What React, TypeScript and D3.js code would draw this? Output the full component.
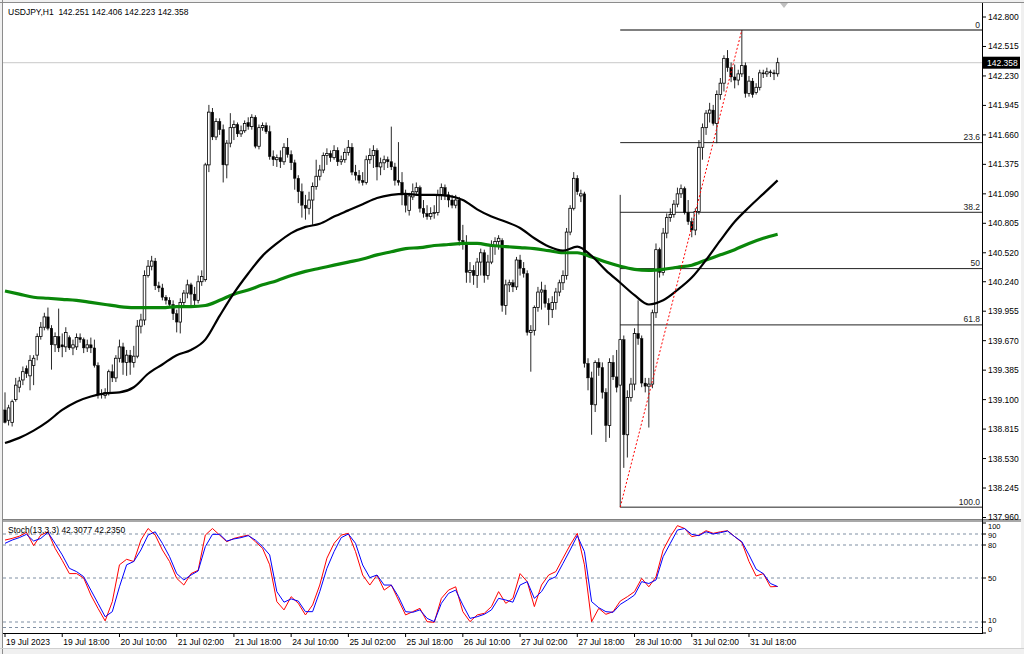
import React from 'react';
import * as d3 from 'd3';

// USDJPY H1 candles, 19 Jul 02:00 .. 1 Aug 02:00 — [open, high, low, close]
const ohlc: [number, number, number, number][] = [
  [139.00,139.17,138.87,138.88],[138.90,139.05,138.85,139.02],[138.88,139.10,138.84,139.08],[139.10,139.31,139.08,139.24],
  [139.22,139.32,139.17,139.28],[139.29,139.42,139.24,139.37],[139.40,139.43,139.31,139.35],[139.33,139.53,139.19,139.48],
  [139.43,139.53,139.24,139.50],[139.53,139.74,139.48,139.71],[139.71,139.85,139.68,139.80],[139.80,139.94,139.77,139.90],
  [139.90,139.99,139.77,139.79],[139.79,139.82,139.39,139.63],[139.63,139.75,139.56,139.71],[139.71,139.98,139.56,139.60],
  [139.63,139.74,139.51,139.61],[139.61,139.80,139.56,139.75],[139.70,139.72,139.58,139.60],[139.60,139.68,139.53,139.63],
  [139.61,139.74,139.58,139.70],[139.70,139.74,139.65,139.68],[139.68,139.70,139.55,139.60],[139.60,139.68,139.56,139.63],
  [139.63,139.70,139.55,139.60],[139.60,139.68,139.41,139.43],[139.43,139.46,139.11,139.15],[139.15,139.20,139.11,139.16],
  [139.14,139.21,139.11,139.17],[139.17,139.39,139.14,139.37],[139.37,139.44,139.27,139.31],[139.31,139.53,139.27,139.50],
  [139.50,139.68,139.46,139.61],[139.61,139.65,139.34,139.46],[139.46,139.58,139.33,139.53],[139.53,139.58,139.34,139.46],
  [139.46,139.62,139.41,139.52],[139.52,139.87,139.50,139.81],[139.81,139.93,139.74,139.87],[139.87,140.35,139.82,140.30],
  [140.30,140.45,140.28,140.39],[140.39,140.49,140.35,140.44],[140.44,140.47,140.16,140.20],[140.20,140.24,140.14,140.18],
  [140.18,140.22,140.06,140.09],[140.09,140.11,140.02,140.06],[140.06,140.09,139.99,140.02],[140.02,140.06,139.87,139.93],
  [139.93,139.97,139.75,139.85],[139.85,140.08,139.74,140.04],[140.04,140.16,140.01,140.13],[140.13,140.26,140.08,140.21],
  [140.21,140.23,140.01,140.12],[140.12,140.19,139.99,140.06],[140.06,140.30,140.03,140.24],[140.24,140.35,140.20,140.29],
  [140.26,141.39,140.24,141.37],[141.37,141.95,141.30,141.88],[141.88,141.92,141.61,141.64],[141.64,141.82,141.61,141.79],
  [141.79,141.82,141.66,141.71],[141.71,141.76,141.20,141.37],[141.37,141.61,141.24,141.58],[141.58,141.87,141.54,141.73],
  [141.73,141.80,141.61,141.76],[141.76,141.78,141.64,141.67],[141.67,141.75,141.64,141.70],[141.70,141.80,141.68,141.77],
  [141.78,141.83,141.71,141.74],[141.74,141.86,141.71,141.83],[141.83,141.85,141.53,141.55],[141.55,141.76,141.52,141.73],
  [141.73,141.78,141.70,141.75],[141.75,141.78,141.67,141.69],[141.69,141.75,141.42,141.45],[141.45,141.51,141.36,141.42],
  [141.42,141.47,141.35,141.44],[141.44,141.51,141.34,141.40],[141.40,141.58,141.37,141.54],[141.54,141.63,141.44,141.47],
  [141.47,141.51,141.32,141.39],[141.39,141.42,141.13,141.24],[141.24,141.27,141.00,141.11],[141.11,141.19,140.86,140.98],
  [140.98,141.08,140.84,140.95],[140.95,141.11,140.89,141.03],[141.03,141.20,140.79,141.16],[141.16,141.42,141.13,141.26],
  [141.26,141.37,141.22,141.32],[141.32,141.49,141.29,141.46],[141.46,141.53,141.37,141.48],[141.48,141.51,141.40,141.44],
  [141.44,141.56,141.42,141.51],[141.51,141.54,141.36,141.40],[141.40,141.46,141.37,141.42],[141.42,141.53,141.39,141.49],
  [141.49,141.61,141.46,141.54],[141.54,141.58,141.27,141.30],[141.30,141.37,141.22,141.27],[141.27,141.32,141.19,141.22],
  [141.22,141.30,141.17,141.20],[141.20,141.46,141.18,141.42],[141.42,141.53,141.38,141.46],[141.46,141.56,141.34,141.51],
  [141.51,141.53,141.22,141.35],[141.35,141.44,141.27,141.39],[141.39,141.46,141.32,141.42],[141.42,141.45,141.34,141.40],
  [141.40,141.74,141.32,141.35],[141.35,141.39,141.17,141.22],[141.22,141.59,141.17,141.20],[141.20,141.30,140.98,141.08],
  [141.08,141.13,140.91,140.98],[140.93,141.10,140.88,141.07],[141.06,141.19,141.03,141.11],[141.11,141.20,141.08,141.15],
  [141.15,141.17,140.91,140.95],[140.95,141.03,140.86,140.90],[140.90,140.98,140.84,140.87],[140.87,140.96,140.84,140.90],
  [140.90,140.98,140.85,140.91],[140.91,141.13,140.88,141.08],[141.08,141.19,141.03,141.15],[141.15,141.18,141.03,141.08],
  [141.08,141.11,140.96,141.03],[141.03,141.08,140.95,140.98],[140.98,141.08,140.95,141.03],[141.03,141.06,140.59,140.64],
  [140.64,140.79,140.55,140.61],[140.61,140.69,140.23,140.33],[140.33,140.43,140.23,140.35],[140.35,140.40,140.21,140.30],
  [140.30,140.47,140.18,140.43],[140.43,140.56,140.30,140.52],[140.52,140.55,140.23,140.30],[140.30,140.50,140.26,140.43],
  [140.43,140.64,140.41,140.59],[140.59,140.67,140.50,140.63],[140.63,140.69,140.55,140.66],[140.64,140.66,139.95,140.01],
  [140.01,140.26,139.92,140.21],[140.21,140.26,140.14,140.23],[140.23,140.26,140.14,140.19],[140.19,140.48,140.16,140.45],
  [140.45,140.50,140.30,140.37],[140.37,140.43,140.28,140.32],[140.32,140.35,139.72,139.75],[139.75,139.82,139.37,139.77],
  [139.77,140.01,139.72,139.99],[139.99,140.19,139.95,140.14],[140.14,140.24,139.97,140.16],[140.16,140.21,139.99,140.03],
  [140.03,140.08,139.82,139.97],[139.97,140.10,139.89,140.04],[140.04,140.18,139.97,140.14],[140.14,140.26,140.10,140.23],
  [140.23,140.35,140.16,140.30],[140.30,140.76,140.26,140.72],[140.72,140.98,140.69,140.95],[140.95,141.30,140.93,141.24],
  [141.24,141.27,141.08,141.11],[141.07,141.13,141.01,141.09],[141.09,141.11,139.41,139.45],[139.45,139.50,139.19,139.31],
  [139.31,139.37,138.76,139.05],[139.05,139.48,138.98,139.46],[139.46,139.50,139.33,139.41],[139.41,139.46,139.11,139.17],
  [139.17,139.21,138.69,138.85],[138.85,139.50,138.73,139.46],[139.46,139.53,139.29,139.32],[139.32,139.58,139.17,139.22],
  [139.24,141.08,138.06,139.68],[139.68,139.72,138.44,138.76],[138.76,139.19,138.54,139.12],[139.12,139.31,139.08,139.25],
  [139.25,139.79,139.19,139.74],[139.74,140.06,139.63,139.69],[139.69,139.72,139.22,139.26],[139.26,139.31,139.17,139.23],
  [139.23,139.31,138.83,139.25],[139.25,139.97,139.21,139.94],[139.94,140.61,139.89,140.55],[140.55,140.57,140.28,140.33],
  [140.33,140.76,140.30,140.71],[140.71,140.90,140.66,140.86],[140.86,140.95,140.82,140.89],[140.89,141.03,140.86,140.99],
  [140.99,141.15,140.96,141.09],[141.09,141.18,141.05,141.14],[141.14,141.16,140.89,140.91],[140.91,141.03,140.79,140.82],
  [140.82,140.86,140.67,140.74],[140.74,140.95,140.69,140.92],[140.92,141.61,140.89,141.54],[141.54,141.77,141.42,141.73],
  [141.73,141.90,141.66,141.87],[141.87,141.97,141.78,141.90],[141.90,141.95,141.75,141.77],[141.77,142.09,141.58,142.05],
  [142.05,142.21,142.00,142.16],[142.16,142.43,142.08,142.40],[142.40,142.48,142.27,142.31],[142.31,142.36,142.17,142.22],
  [142.22,142.34,142.11,142.19],[142.19,142.29,142.14,142.25],[142.25,142.674,142.22,142.33],[142.33,142.36,142.02,142.06],
  [142.06,142.23,142.03,142.18],[142.18,142.21,142.02,142.05],[142.07,142.16,142.05,142.12],[142.12,142.29,142.09,142.26],
  [142.26,142.29,142.21,142.25],[142.25,142.31,142.22,142.27],[142.27,142.29,142.22,142.26],[142.26,142.29,142.19,142.25],
  [142.251,142.406,142.223,142.358],
];

// moving averages, one value every 4 bars
const maStep = 4;
const maBlack = [
  138.68,138.73,138.80,138.89,139.00,139.08,139.13,139.16,139.17,139.22,
  139.35,139.44,139.53,139.58,139.68,139.91,140.13,140.32,140.49,140.61,
  140.71,140.77,140.80,140.87,140.93,140.99,141.05,141.08,141.09,141.08,
  141.08,141.07,141.03,140.94,140.87,140.82,140.76,140.66,140.58,140.54,
  140.58,140.49,140.35,140.23,140.11,140.02,140.06,140.16,140.28,140.45,
  140.64,140.82,140.96,141.09,141.22,
];
const maGreen = [
  140.15,140.12,140.09,140.08,140.07,140.06,140.04,140.02,140.00,139.99,
  139.99,139.99,140.00,140.00,140.01,140.06,140.12,140.16,140.21,140.25,
  140.30,140.34,140.37,140.40,140.43,140.46,140.50,140.53,140.56,140.57,
  140.59,140.60,140.61,140.61,140.59,140.58,140.57,140.56,140.54,140.52,
  140.52,140.48,140.43,140.39,140.36,140.35,140.36,140.38,140.40,140.45,
  140.50,140.55,140.61,140.66,140.70,
];

// stochastic (13,3,3), one value every 2 bars
const stochStep = 2;
const stochK = [
  84.5,86,88,91.5,79.4,89,92,77,66,54,
  54,50,34.5,22.4,11,28.5,62,67,65,84.5,
  95,89,75.5,65,49.7,43.6,54,57,89,95,
  89,83,86,87.6,89,83,77,62,28.5,21,
  33,27,16.4,25.5,43.6,68,81.5,89,90.6,74,
  52.7,43.6,52.7,39,43.6,30,16.4,19.4,22.4,10.3,
  9.7,31.5,39,42,19.4,10.3,16.4,17.9,24,37.6,
  27,31.5,54,46.7,24,43.6,52.7,55.8,68,80,
  90.6,62,10.3,22.4,17,19.4,29,33,37.6,49.7,
  42,51,75.5,87.6,97.6,95,87.6,89,93,90.6,
  92,93,87.6,82.4,65,51.8,54,42,42.3077,
];
const stochD = [
  81.5,84.5,86.7,89.7,83.6,86,91.5,81.5,71,58.8,
  55.8,51.2,39,27,14.8,19.4,42,62,65,75.5,
  89,92,81.5,69.4,54,48.2,52.7,56.4,78.5,89.7,
  89.7,83.6,85.5,86.7,88.5,84.5,78.5,71,37.6,28,
  31,29,19.4,19.4,37.6,58.8,74,86.7,90,81.5,
  61.8,50.3,52.7,43.6,43.6,33,19.4,18.8,21,13.3,
  10.3,27,36,39,25.5,13.3,14.8,17,21,31.5,
  30,28,43.6,46.7,31.5,37.6,48.2,51.2,63.3,75.5,
  88.5,74,28.5,23,19.4,18.8,26,30,34.5,46.7,
  45,48.2,69.4,81.5,93.6,95,89.7,88.5,92,90,
  91.2,92.7,87.6,83,71,58,54,45,42.235,
];

const priceTicks = [142.8, 142.515, 142.23, 141.945, 141.66, 141.375, 141.09, 140.805, 140.52, 140.24, 139.955, 139.67, 139.385, 139.1, 138.815, 138.53, 138.245, 137.96];
const stochLevels = [90, 80, 50, 10, 5];
const stochTicks = [100, 90, 80, 50, 10, 0];
const timeLabelStep = 16;
const timeLabels = ['19 Jul 2023', '19 Jul 18:00', '20 Jul 10:00', '21 Jul 02:00', '21 Jul 18:00', '24 Jul 10:00', '25 Jul 02:00', '25 Jul 18:00', '26 Jul 10:00', '27 Jul 02:00', '27 Jul 18:00', '28 Jul 10:00', '31 Jul 02:00', '31 Jul 18:00'];
const fibLevels = [0, 23.6, 38.2, 50, 61.8, 100];
const fibLabels = ['0', '23.6', '38.2', '50', '61.8', '100.0'];
const fibLowBar = 172;
const fibHighBar = 206;

const W = 1024, H = 654;
const left = 3, axisX = 982, mainTop = 3, mainBot = 519, stochTop = 522, stochBot = 633;
const font = "'Liberation Sans', Arial, sans-serif";

export default function App() {
  const n = ohlc.length;
  const x = d3.scaleLinear().domain([0, n - 1]).range([5, 777.6]);
  const y = d3.scaleLinear().domain([137.96, 142.8]).range([517.5, 17]);
  const ys = d3.scaleLinear().domain([0, 100]).range([stochBot, stochTop + 1]);

  const last = ohlc[n - 1];
  const header = `USDJPY,H1  ${last.map(v => v.toFixed(3)).join(' ')}`;
  const stochTitle = `Stoch(13,3,3) ${stochK[stochK.length - 1].toFixed(4)} ${stochD[stochD.length - 1].toFixed(4)}`;

  const maLine = d3.line<number>().x((_, i) => x(i * maStep)).y(d => y(d)).curve(d3.curveMonotoneX);
  const stLine = d3.line<number>().x((_, i) => x(i * stochStep)).y(d => ys(d));

  const fibLow = ohlc[fibLowBar][2];
  const fibHigh = ohlc[fibHighBar][1];
  const fx0 = x(fibLowBar);

  const bw = 2.6;
  // stoch axis labels sit close together at the panel edges, nudge them apart
  const stochLabelY = (v: number) => v === 100 ? 526.5 : v === 0 ? 629.5 : v === 10 ? 620 : v === 90 ? ys(v) + 1 : ys(v);

  return (
    <svg width={W} height={H} style={{ position: 'absolute', left: 0, top: 0 }} fontFamily={font}>
      <defs>
        <clipPath id="mainClip"><rect x={left} y={mainTop} width={axisX - left} height={mainBot - mainTop} /></clipPath>
        <clipPath id="stochClip"><rect x={left} y={stochTop} width={axisX - left} height={stochBot - stochTop} /></clipPath>
      </defs>
      <rect x={0} y={0} width={W} height={H} fill="#f0f0f0" />
      <rect x={left} y={mainTop} width={1021 - left} height={648 - mainTop} fill="#fff" />
      <line x1={left - 0.5} x2={left - 0.5} y1={0} y2={H} stroke="#8c8c8c" />
      <line x1={0} x2={W} y1={mainTop - 0.5} y2={mainTop - 0.5} stroke="#8c8c8c" />

      {/* main panel */}
      <g clipPath="url(#mainClip)">
        <line x1={left} x2={axisX} y1={y(last[3])} y2={y(last[3])} stroke="#c8c8c8" />
        {fibLevels.map((lv, k) => {
          const p = fibHigh - (fibHigh - fibLow) * lv / 100;
          return (
            <g key={lv}>
              <line x1={fx0} x2={axisX} y1={y(p)} y2={y(p)} stroke={lv === 0 ? '#808080' : '#222'} strokeWidth={lv === 0 ? 2 : 1} />
              <text x={axisX - 2} y={y(p) - 2.5} textAnchor="end" fontSize={8.5} fill="#222">{fibLabels[k]}</text>
            </g>
          );
        })}
        {ohlc.map(([o, h, l, c], i) => {
          const cx = x(i);
          const top = y(Math.max(o, c));
          const bh = Math.max(1, y(Math.min(o, c)) - top);
          const bull = c >= o;
          return (
            <g key={i}>
              <line x1={cx} x2={cx} y1={y(h)} y2={y(l)} stroke="#111" strokeWidth={0.9} />
              <rect x={cx - bw / 2} y={top} width={bw} height={bh} fill={bull ? '#fff' : '#000'} stroke="#000" strokeWidth={bull ? 0.8 : 0.4} />
            </g>
          );
        })}
        <path d={maLine(maGreen) ?? ''} fill="none" stroke="#0a870a" strokeWidth={3.2} strokeLinejoin="round" />
        <path d={maLine(maBlack) ?? ''} fill="none" stroke="#000" strokeWidth={2.2} strokeLinejoin="round" />
        <line x1={fx0} y1={y(fibLow)} x2={x(fibHighBar)} y2={y(fibHigh)} stroke="#ff0000" strokeDasharray="2 2" />
      </g>
      <text x={8} y={14.5} fontSize={8.5} fill="#000" style={{ whiteSpace: 'pre' }}>{header}</text>
      <path d="M780,3 L788,3 L784,8 Z" fill="#c0c0c0" />

      {/* separator */}
      <rect x={left} y={mainBot} width={1021 - left} height={stochTop - mainBot} fill="#a8a8a8" />
      <line x1={left} x2={1021} y1={mainBot + 0.5} y2={mainBot + 0.5} stroke="#808080" />

      {/* stochastic panel */}
      <g clipPath="url(#stochClip)">
        {stochLevels.map(lv => (
          <line key={lv} x1={left} x2={axisX} y1={ys(lv)} y2={ys(lv)} stroke="#7f8fa3" strokeDasharray="3 3" />
        ))}
        <path d={stLine(stochK) ?? ''} fill="none" stroke="#ff0000" strokeWidth={1} />
        <path d={stLine(stochD) ?? ''} fill="none" stroke="#0000ff" strokeWidth={1} />
      </g>
      <text x={8} y={533} fontSize={8.5} fill="#000">{stochTitle}</text>

      {/* price axis */}
      <line x1={axisX + 0.5} x2={axisX + 0.5} y1={mainTop} y2={stochBot} stroke="#000" />
      {priceTicks.map(p => (
        <g key={p}>
          <line x1={axisX} x2={axisX + 4} y1={y(p)} y2={y(p)} stroke="#000" />
          <text x={axisX + 6} y={y(p)} dy="0.35em" fontSize={8.5} fill="#000">{p.toFixed(3)}</text>
        </g>
      ))}
      <rect x={axisX + 1} y={y(last[3]) - 6} width={37} height={12} fill="#000" />
      <text x={axisX + 5} y={y(last[3])} dy="0.35em" fontSize={8.5} fill="#fff">{last[3].toFixed(3)}</text>
      {stochTicks.map(v => (
        <g key={v}>
          <line x1={axisX} x2={axisX + 4} y1={ys(v)} y2={ys(v)} stroke="#000" />
          <text x={axisX + 6} y={stochLabelY(v)} dy="0.35em" fontSize={7.5} fill="#000">{v}</text>
        </g>
      ))}

      {/* time axis */}
      <line x1={left} x2={axisX + 1} y1={stochBot + 0.5} y2={stochBot + 0.5} stroke="#000" />
      {timeLabels.map((t, k) => {
        const tx = x(k * timeLabelStep);
        return (
          <g key={t}>
            <line x1={tx} x2={tx} y1={stochBot} y2={stochBot + 4} stroke="#000" />
            <text x={tx + 1} y={645} fontSize={8.5} fill="#000">{t}</text>
          </g>
        );
      })}
      <line x1={0} x2={W} y1={648.5} y2={648.5} stroke="#d0d0d0" />
    </svg>
  );
}
